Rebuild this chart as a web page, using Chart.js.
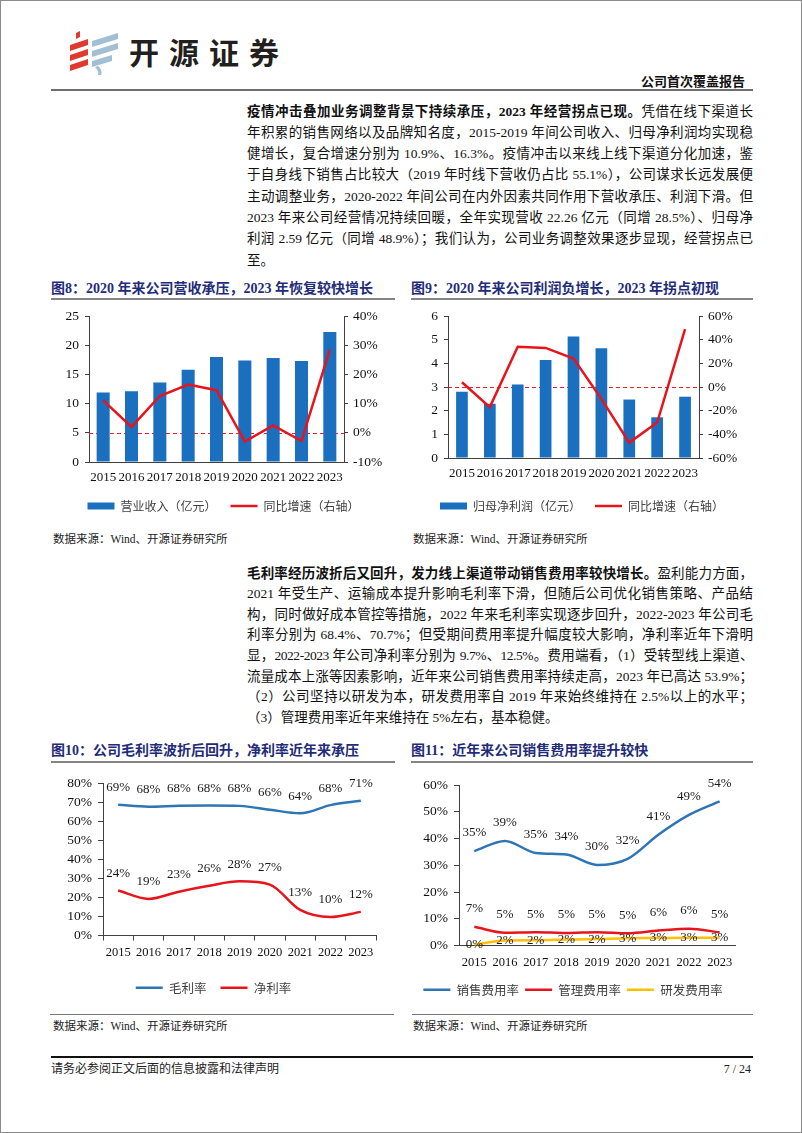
<!DOCTYPE html>
<html>
<head>
<meta charset="utf-8">
<script src="https://cdn.jsdelivr.net/npm/chart.js@4.4.1/dist/chart.umd.min.js"></script>
<style>
html, body { margin: 0; padding: 0; background: #fff; }
#page { position: relative; width: 802px; height: 1133px; box-sizing: border-box; border: 1px solid #8a8a8a; overflow: hidden;
  font-family: "Liberation Serif", "Noto Sans CJK SC", serif; color: #111; }
.abs { position: absolute; }
.para { position: absolute; left: 246px; width: 506px; font-size: 13.5px; }
.para div { text-align: justify; text-align-last: justify; white-space: nowrap; }
.para div.last { text-align-last: left; }
.para div.tight { letter-spacing: -0.45px; }
.para b { font-weight: 700; }
.ftitle { position: absolute; font-size: 14px; line-height: 18px; font-weight: 700; color: #1f2c79; white-space: nowrap; }
.uline { position: absolute; height: 2px; background: #858585; }
.src { position: absolute; font-size: 11.5px; line-height: 14px; color: #222; white-space: nowrap; }
canvas { position: absolute; }
</style>
</head>
<body>
<div id="page">
  <svg class="abs" style="left:66px;top:30px" width="56" height="44" viewBox="0 0 56 44">
    <g fill="#e0392e">
      <polygon points="9,2 13,0 13,6 9,8"/>
      <polygon points="3,14 21,8 21,14 3,20"/>
      <polygon points="3,24 21,18 21,24 3,30"/>
      <polygon points="3,34 21,28 21,34 3,40"/>
    </g>
    <g fill="#a3bfd6">
      <polygon points="25,10 51,2 51,8 25,16"/>
      <polygon points="25,20 51,12 51,18 25,26"/>
      <polygon points="25,30 45,24 45,30 25,36"/>
      <path d="M31,35 q5,4 3,9 l-3,0 q1,-4 -3,-8 z"/>
    </g>
  </svg>
  <div class="abs" style="left:128px;top:31px;font-family:'Noto Sans CJK SC';font-weight:700;font-size:30px;line-height:38px;letter-spacing:10px;color:#231f20;">开源证券</div>
  <div class="abs" style="right:56px;top:72px;font-family:'Noto Sans CJK SC';font-weight:700;font-size:13px;line-height:16px;">公司首次覆盖报告</div>
  <div class="abs" style="left:50px;top:88px;width:702px;height:2px;background:#6e6e6e;"></div>

  <div class="para" style="top:99.5px;line-height:21.3px;">
    <div><b>疫情冲击叠加业务调整背景下持续承压，2023 年经营拐点已现。</b>凭借在线下渠道长</div>
    <div>年积累的销售网络以及品牌知名度，2015-2019 年间公司收入、归母净利润均实现稳</div>
    <div>健增长，复合增速分别为 10.9%、16.3%。疫情冲击以来线上线下渠道分化加速，鉴</div>
    <div>于自身线下销售占比较大（2019 年时线下营收仍占比 55.1%），公司谋求长远发展便</div>
    <div>主动调整业务，2020-2022 年间公司在内外因素共同作用下营收承压、利润下滑。但</div>
    <div>2023 年来公司经营情况持续回暖，全年实现营收 22.26 亿元（同增 28.5%）、归母净</div>
    <div>利润 2.59 亿元（同增 48.9%）；我们认为，公司业务调整效果逐步显现，经营拐点已</div>
    <div class="last">至。</div>
  </div>

  <div class="ftitle" style="left:50px;top:279px;">图8：2020 年来公司营收承压，2023 年恢复较快增长</div>
  <div class="ftitle" style="left:410px;top:279px;">图9：2020 年来公司利润负增长，2023 年拐点初现</div>
  <div class="uline" style="left:50px;top:297px;width:344px;"></div>
  <div class="uline" style="left:410px;top:297px;width:342px;"></div>
  <canvas id="c8" width="345" height="221" style="left:50px;top:300px;"></canvas>
  <canvas id="c9" width="342" height="221" style="left:410px;top:300px;"></canvas>
  <div class="src" style="left:52px;top:531px;">数据来源：Wind、开源证券研究所</div>
  <div class="src" style="left:412px;top:531px;">数据来源：Wind、开源证券研究所</div>

  <div class="para" style="top:562.7px;line-height:20.6px;">
    <div><b>毛利率经历波折后又回升，发力线上渠道带动销售费用率较快增长。</b>盈利能力方面，</div>
    <div>2021 年受生产、运输成本提升影响毛利率下滑，但随后公司优化销售策略、产品结</div>
    <div>构，同时做好成本管控等措施，2022 年来毛利率实现逐步回升，2022-2023 年公司毛</div>
    <div>利率分别为 68.4%、70.7%；但受期间费用率提升幅度较大影响，净利率近年下滑明</div>
    <div class="tight">显，2022-2023 年公司净利率分别为 9.7%、12.5%。费用端看，（1）受转型线上渠道、</div>
    <div>流量成本上涨等因素影响，近年来公司销售费用率持续走高，2023 年已高达 53.9%；</div>
    <div>（2）公司坚持以研发为本，研发费用率自 2019 年来始终维持在 2.5%以上的水平；</div>
    <div class="last">（3）管理费用率近年来维持在 5%左右，基本稳健。</div>
  </div>

  <div class="ftitle" style="left:50px;top:741px;">图10：公司毛利率波折后回升，净利率近年来承压</div>
  <div class="ftitle" style="left:410px;top:741px;">图11：近年来公司销售费用率提升较快</div>
  <div class="uline" style="left:50px;top:760px;width:344px;"></div>
  <div class="uline" style="left:410px;top:760px;width:342px;"></div>
  <canvas id="c10" width="345" height="238" style="left:50px;top:765px;"></canvas>
  <canvas id="c11" width="342" height="240" style="left:410px;top:765px;"></canvas>
  <div class="abs" style="left:49px;top:1013px;width:344px;height:1px;background:#777;"></div>
  <div class="abs" style="left:411px;top:1013px;width:341px;height:1px;background:#777;"></div>
  <div class="src" style="left:52px;top:1018px;">数据来源：Wind、开源证券研究所</div>
  <div class="src" style="left:412px;top:1018px;">数据来源：Wind、开源证券研究所</div>

  <div class="abs" style="left:50px;top:1055px;width:702px;height:2px;background:#111;"></div>
  <div class="src" style="left:50px;top:1061px;font-size:12px;">请务必参阅正文后面的信息披露和法律声明</div>
  <div class="src" style="right:50px;top:1061px;font-size:12px;">7 / 24</div>
</div>

<script>
// 数据
const years = ['2015', '2016', '2017', '2018', '2019', '2020', '2021', '2022', '2023'];
const revenue = [11.9, 12.1, 13.6, 15.8, 18.0, 17.4, 17.8, 17.3, 22.26];      // 亿元
const revenueYoY = [11.1, 2.0, 12.6, 16.5, 14.6, -3.0, 2.5, -2.8, 28.5];     // %
const profit = [2.80, 2.29, 3.11, 4.14, 5.13, 4.64, 2.47, 1.72, 2.59];        // 亿元
const profitYoY = [4, -17, 34, 33, 24, -10, -47, -30, 48.9];                 // %
const grossMargin = [68.6, 67.6, 68.1, 68.2, 68.0, 66.0, 64.1, 68.4, 70.7];
const netMargin = [23.6, 19.2, 23.0, 26.1, 28.4, 26.7, 13.4, 9.7, 12.4];
const sellingRate = [35.3, 39.1, 34.6, 34.0, 30.1, 32.4, 41.4, 48.8, 53.9];
const adminRate = [7.0, 4.8, 5.0, 4.7, 5.0, 4.6, 5.6, 6.3, 4.9];
const rdRate = [0.3, 1.9, 2.0, 2.2, 2.4, 2.7, 2.8, 2.9, 2.9];

const BLUE = '#1a6fbf', RED = '#e8141b', LBLUE = '#2e75b6', YELLOW = '#ffc000', AXIS = '#404040';
Chart.defaults.font.family = '"Liberation Serif", "Noto Sans CJK SC", serif';
Chart.defaults.color = '#111';
Chart.defaults.animation = false;

const fixW = w => s => { s.width = w; };
const fixH = h => s => { s.height = h; };
const pct = v => v + '%';

// 0% 参考虚线
const zeroLine = {
  id: 'zeroLine',
  beforeDatasetsDraw(chart, args, opts) {
    const y = Math.round(chart.scales[opts.axis].getPixelForValue(0)) + 0.5;
    const a = chart.chartArea, ctx = chart.ctx;
    ctx.save();
    ctx.strokeStyle = '#f01c24'; ctx.lineWidth = 1.2; ctx.setLineDash([4, 3]);
    ctx.beginPath(); ctx.moveTo(a.left, y); ctx.lineTo(a.right, y); ctx.stroke();
    ctx.restore();
  }
};

// 数据标签
const valueLabels = {
  id: 'valueLabels',
  afterDatasetsDraw(chart) {
    const ctx = chart.ctx;
    chart.data.datasets.forEach((ds, i) => {
      if (ds.labelOffset === undefined) return;
      ctx.save();
      ctx.font = '13px "Liberation Serif"';
      ctx.fillStyle = '#1a1a1a';
      ctx.textAlign = 'center'; ctx.textBaseline = 'middle';
      chart.getDatasetMeta(i).data.forEach((pt, j) => {
        ctx.fillText(Math.round(ds.data[j]) + '%', pt.x, pt.y + ds.labelOffset);
      });
      ctx.restore();
    });
  }
};

function legendOpts(size, padding, boxHeight) {
  return {
    position: 'bottom',
    labels: {
      usePointStyle: true, pointStyleWidth: 27, boxHeight: boxHeight, padding: padding,
      color: '#404040', font: {size: size, family: '"Noto Sans CJK SC"'},
      sort: (a, b) => a.datasetIndex - b.datasetIndex
    }
  };
}

const xTicks = (pad, size) => ({font: {size: size}, padding: pad, color: '#111', maxRotation: 0, minRotation: 0, autoSkip: false});
const yTicks = (step, pad, cb) => ({stepSize: step, font: {size: 13.5, lineHeight: 1}, padding: pad, color: '#111', autoSkip: false, callback: cb});

function comboChart(id, bars, barLabel, yoy, yMax, yStep, rMin, rMax, rStep, leftW, rightW, xH, barPct) {
  new Chart(document.getElementById(id), {
    type: 'bar',
    data: {
      labels: years,
      datasets: [
        {label: barLabel, data: bars, backgroundColor: BLUE, yAxisID: 'y', order: 1,
         pointStyle: 'rect', barPercentage: barPct, categoryPercentage: 1},
        {type: 'line', label: '同比增速（右轴）', data: yoy, borderColor: RED, backgroundColor: RED,
         borderWidth: 2.5, pointRadius: 0, yAxisID: 'y1', order: 0, pointStyle: 'line'}
      ]
    },
    options: {
      responsive: false,
      layout: {padding: {top: 15, right: 0, bottom: 0, left: 0}},
      plugins: {legend: legendOpts(12, 14, 7), tooltip: {enabled: false}, zeroLine: {axis: 'y1'}},
      scales: {
        x: {grid: {drawOnChartArea: false, drawTicks: false, color: AXIS}, border: {color: AXIS},
            ticks: xTicks(8, 13), afterFit: fixH(xH)},
        y: {min: 0, max: yMax, ticks: yTicks(yStep, 6),
            grid: {drawOnChartArea: false, tickLength: 4, color: AXIS}, border: {color: AXIS}, afterFit: fixW(leftW)},
        y1: {position: 'right', min: rMin, max: rMax, ticks: yTicks(rStep, 5, pct),
             grid: {drawOnChartArea: false, tickLength: 4, color: AXIS}, border: {color: AXIS}, afterFit: fixW(rightW)}
      }
    },
    plugins: [zeroLine]
  });
}

comboChart('c8', revenue, '营业收入（亿元）', revenueYoY, 25, 5, -10, 40, 10, 38, 52, 24, 0.46);
comboChart('c9', profit, '归母净利润（亿元）', profitYoY, 6, 1, -60, 60, 20, 37, 54, 28, 0.42);

function lineSet(label, data, color, offset) {
  return {label: label, data: data, borderColor: color, backgroundColor: color, borderWidth: 2.5,
          pointRadius: 0, cubicInterpolationMode: 'monotone', pointStyle: 'line', labelOffset: offset};
}

new Chart(document.getElementById('c10'), {
  type: 'line',
  data: {
    labels: years,
    datasets: [lineSet('毛利率', grossMargin, LBLUE, -17), lineSet('净利率', netMargin, RED, -17)]
  },
  options: {
    responsive: false,
    layout: {padding: {top: 17, right: 20, bottom: 0, left: 0}},
    plugins: {legend: legendOpts(12.5, 14, 8), tooltip: {enabled: false}},
    scales: {
      x: {offset: true, grid: {offset: true, drawOnChartArea: false, tickLength: 5, color: AXIS}, border: {color: AXIS},
          ticks: xTicks(5, 12.5), afterFit: fixH(32)},
      y: {min: 0, max: 80, ticks: yTicks(10, 6, pct),
          grid: {drawOnChartArea: false, tickLength: 5, color: AXIS}, border: {color: AXIS}, afterFit: fixW(52)}
    }
  },
  plugins: [valueLabels]
});

new Chart(document.getElementById('c11'), {
  type: 'line',
  data: {
    labels: years,
    datasets: [
      lineSet('销售费用率', sellingRate, LBLUE, -18),
      lineSet('管理费用率', adminRate, RED, -18),
      lineSet('研发费用率', rdRate, YELLOW, 0)
    ]
  },
  options: {
    responsive: false,
    layout: {padding: {top: 19, right: 18, bottom: 0, left: 0}},
    plugins: {legend: legendOpts(12.5, 6, 8), tooltip: {enabled: false}},
    scales: {
      x: {offset: true, grid: {offset: true, drawOnChartArea: false, drawTicks: false, color: AXIS}, border: {color: AXIS},
          ticks: xTicks(10, 12.5), afterFit: fixH(32)},
      y: {min: 0, max: 60, ticks: yTicks(10, 6, pct),
          grid: {drawOnChartArea: false, tickLength: 5, color: AXIS}, border: {color: AXIS}, afterFit: fixW(48)}
    }
  },
  plugins: [valueLabels]
});
</script>
</body>
</html>
